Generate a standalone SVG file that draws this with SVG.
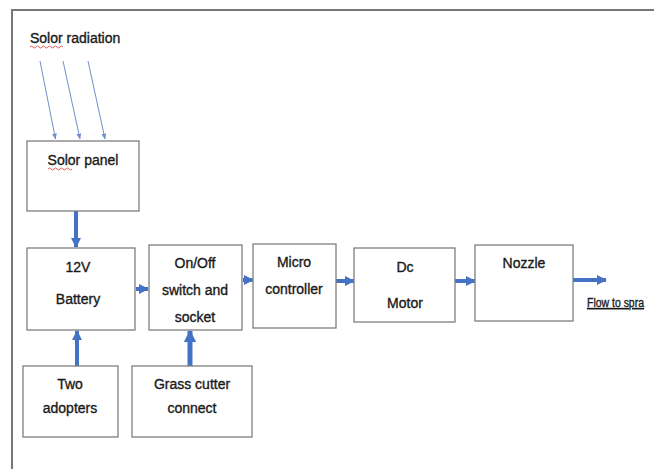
<svg xmlns="http://www.w3.org/2000/svg" width="654" height="469" viewBox="0 0 654 469">
<style>
.box{fill:#fff;stroke:#7f7f7f;stroke-width:1.3}
.t{font-family:"Liberation Sans",Arial,sans-serif;font-size:14px;fill:#1a1a1a;stroke:#1a1a1a;stroke-width:0.35;text-anchor:middle}
.ray{stroke:#6f8fc9;stroke-width:1;fill:none}
.fat{stroke:#4472c4;stroke-width:4;fill:none}
.sq{stroke:#d03030;stroke-width:0.8;fill:none}
</style>
<defs>
<marker id="ah" viewBox="0 0 10 10" refX="9" refY="5" markerWidth="2.5" markerHeight="2.8" orient="auto" markerUnits="strokeWidth">
<path d="M0,0 L10,5 L0,10 z" fill="#4472c4"/>
</marker>
<marker id="rh" viewBox="0 0 10 10" refX="9" refY="5" markerWidth="6" markerHeight="6" orient="auto" markerUnits="strokeWidth">
<path d="M0,1 L10,5 L0,9 z" fill="#6f8fc9"/>
</marker>
</defs>
<rect width="654" height="469" fill="#fff"/>
<path d="M12,469 V10 H654" fill="none" stroke="#777" stroke-width="2"/>

<g id="title">
<text class="t" x="30" y="43" style="text-anchor:start">Solor radiation</text>
<path class="sq" d="M30,47 q1.5,-2 3,0 t3,0 t3,0 t3,0 t3,0 t3,0 t3,0 t3,0 t3,0 t3,0 t3,0"/>
</g>

<g id="connectors">
<line class="ray" x1="40" y1="61" x2="55.5" y2="139" marker-end="url(#rh)"/>
<line class="ray" x1="63" y1="61" x2="80" y2="139" marker-end="url(#rh)"/>
<line class="ray" x1="88" y1="61" x2="105" y2="139" marker-end="url(#rh)"/>
<line class="fat" x1="76" y1="211" x2="76" y2="247" marker-end="url(#ah)"/>
<line class="fat" x1="77" y1="366" x2="77" y2="331" marker-end="url(#ah)"/>
<line class="fat" x1="190" y1="366" x2="190" y2="331" style="stroke-width:5" marker-end="url(#ah)"/>
<line class="fat" x1="136" y1="289" x2="148" y2="289" marker-end="url(#ah)"/>
<line class="fat" x1="243" y1="280" x2="253" y2="280" marker-end="url(#ah)"/>
<line class="fat" x1="336" y1="281" x2="354" y2="281" marker-end="url(#ah)"/>
<line class="fat" x1="455" y1="281" x2="475" y2="281" marker-end="url(#ah)"/>
<line class="fat" x1="573" y1="280" x2="606" y2="280" marker-end="url(#ah)"/>
</g>

<g id="solar-panel">
<rect class="box" x="27" y="141" width="112" height="70"/>
<text class="t" x="83" y="165">Solor panel</text>
<path class="sq" d="M48,169 q1.5,-2 3,0 t3,0 t3,0 t3,0 t3,0 t3,0 t3,0 t3,0"/>
</g>

<g id="battery">
<rect class="box" x="27" y="248" width="108" height="82"/>
<text class="t" x="78" y="272">12V</text>
<text class="t" x="78" y="304">Battery</text>
</g>

<g id="switch">
<rect class="box" x="149" y="245" width="93" height="85"/>
<text class="t" x="195" y="268">On/Off</text>
<text class="t" x="195" y="295">switch and</text>
<text class="t" x="195" y="322">socket</text>
</g>

<g id="micro">
<rect class="box" x="253" y="244" width="83" height="84"/>
<text class="t" x="294" y="267">Micro</text>
<text class="t" x="294" y="294">controller</text>
</g>

<g id="motor">
<rect class="box" x="354" y="248" width="101" height="74"/>
<text class="t" x="405" y="272">Dc</text>
<text class="t" x="405" y="308">Motor</text>
</g>

<g id="nozzle">
<rect class="box" x="475" y="245" width="98" height="76"/>
<text class="t" x="524" y="268">Nozzle</text>
</g>

<g id="flow">
<text class="t" x="587" y="307" textLength="57" lengthAdjust="spacingAndGlyphs" style="text-anchor:start;text-decoration:underline;font-size:12px">Flow to spra</text>
</g>

<g id="adopters">
<rect class="box" x="23" y="366" width="95" height="71"/>
<text class="t" x="70" y="389">Two</text>
<text class="t" x="70" y="413">adopters</text>
</g>

<g id="grass">
<rect class="box" x="132" y="366" width="120" height="71"/>
<text class="t" x="192" y="389">Grass cutter</text>
<text class="t" x="192" y="413">connect</text>
</g>
</svg>
